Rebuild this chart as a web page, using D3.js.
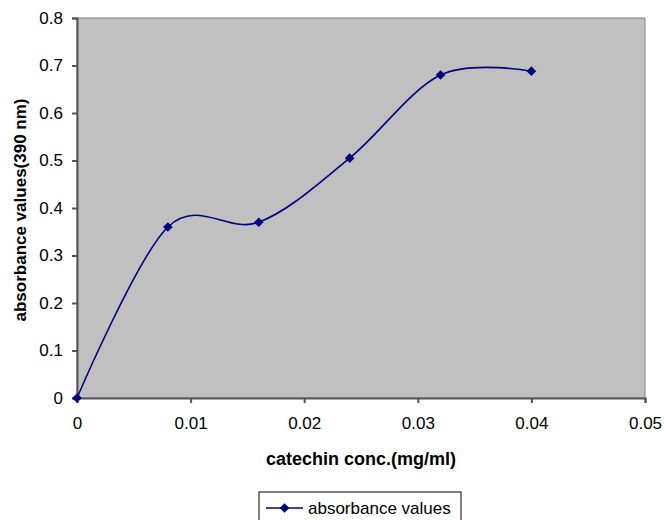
<!DOCTYPE html>
<html>
<head>
<meta charset="utf-8">
<script src="https://cdn.jsdelivr.net/npm/d3@7"></script>
<style>
  body { margin: 0; background: #fff; }
  svg { display: block; font-family: Arial, "Liberation Sans", sans-serif; }
</style>
</head>
<body>
<svg id="chart" width="664" height="520"></svg>
<script>
// data
const concs = [0, 0.008, 0.016, 0.024, 0.032, 0.04];
const absorbance = [0, 0.36, 0.37, 0.505, 0.68, 0.688];
const xTicks = [0, 0.01, 0.02, 0.03, 0.04, 0.05];
const yTicks = [0, 0.1, 0.2, 0.3, 0.4, 0.5, 0.6, 0.7, 0.8];
const seriesName = 'absorbance values';

const svg = d3.select('#chart');
const margin = {top: 18, right: 19, bottom: 122, left: 77};
const width = 664 - margin.left - margin.right, height = 520 - margin.top - margin.bottom;
const g = svg.append('g').attr('transform', `translate(${margin.left},${margin.top})`);

const x = d3.scaleLinear().domain([0, 0.05]).range([0, width]);
const y = d3.scaleLinear().domain([0, 0.8]).range([height, 0]);

// plot area
g.append('rect').attr('width', width).attr('height', height)
  .attr('fill', '#c0c0c0').attr('stroke', '#808080').attr('stroke-width', 1);

const fmt = d => d === 0 ? '0' : String(+d.toFixed(2));

const xAxis = g.append('g').attr('transform', `translate(0,${height})`)
  .call(d3.axisBottom(x).tickValues(xTicks).tickFormat(fmt).tickSize(5).tickPadding(14));
const yAxis = g.append('g')
  .call(d3.axisLeft(y).tickValues(yTicks).tickFormat(fmt).tickSize(5).tickPadding(9));
[xAxis, yAxis].forEach(a => {
  a.select('.domain').attr('stroke', '#555').attr('stroke-width', 2);
  a.selectAll('.tick line').attr('stroke', '#555').attr('stroke-width', 2);
  a.selectAll('.tick text').attr('fill', '#000').attr('font-size', 17)
    .attr('font-family', 'Arial, "Liberation Sans", sans-serif');
});

// smoothed line like the spreadsheet's
const pts = concs.map((c, i) => ({c, v: absorbance[i]}));
g.append('path').datum(pts)
  .attr('fill', 'none').attr('stroke', '#000080').attr('stroke-width', 1.6)
  .attr('d', d3.line().x(d => x(d.c)).y(d => y(d.v)).curve(d3.curveCardinal.tension(0)));

const diamond = d3.symbol().type(d3.symbolDiamond2).size(60);
g.selectAll('.pt').data(pts).enter().append('path')
  .attr('transform', d => `translate(${x(d.c)},${y(d.v)})`)
  .attr('d', diamond).attr('fill', '#000080');

// axis titles
svg.append('text').attr('x', 361).attr('y', 465)
  .attr('text-anchor', 'middle').attr('font-weight', 'bold').attr('font-size', 18)
  .text('catechin conc.(mg/ml)');
svg.append('text').attr('transform', 'translate(26,210) rotate(-90)')
  .attr('text-anchor', 'middle').attr('font-weight', 'bold').attr('font-size', 17)
  .text('absorbance values(390 nm)');

// legend
const lg = svg.append('g').attr('transform', 'translate(259,492)');
lg.append('rect').attr('width', 202).attr('height', 40)
  .attr('fill', '#fff').attr('stroke', '#000').attr('stroke-width', 1);
lg.append('line').attr('x1', 7).attr('x2', 44).attr('y1', 16).attr('y2', 16)
  .attr('stroke', '#000080').attr('stroke-width', 1.6);
lg.append('path').attr('transform', 'translate(25.5,16)').attr('d', diamond).attr('fill', '#000080');
lg.append('text').attr('x', 49).attr('y', 22).attr('font-size', 17).text(seriesName);
</script>
</body>
</html>
